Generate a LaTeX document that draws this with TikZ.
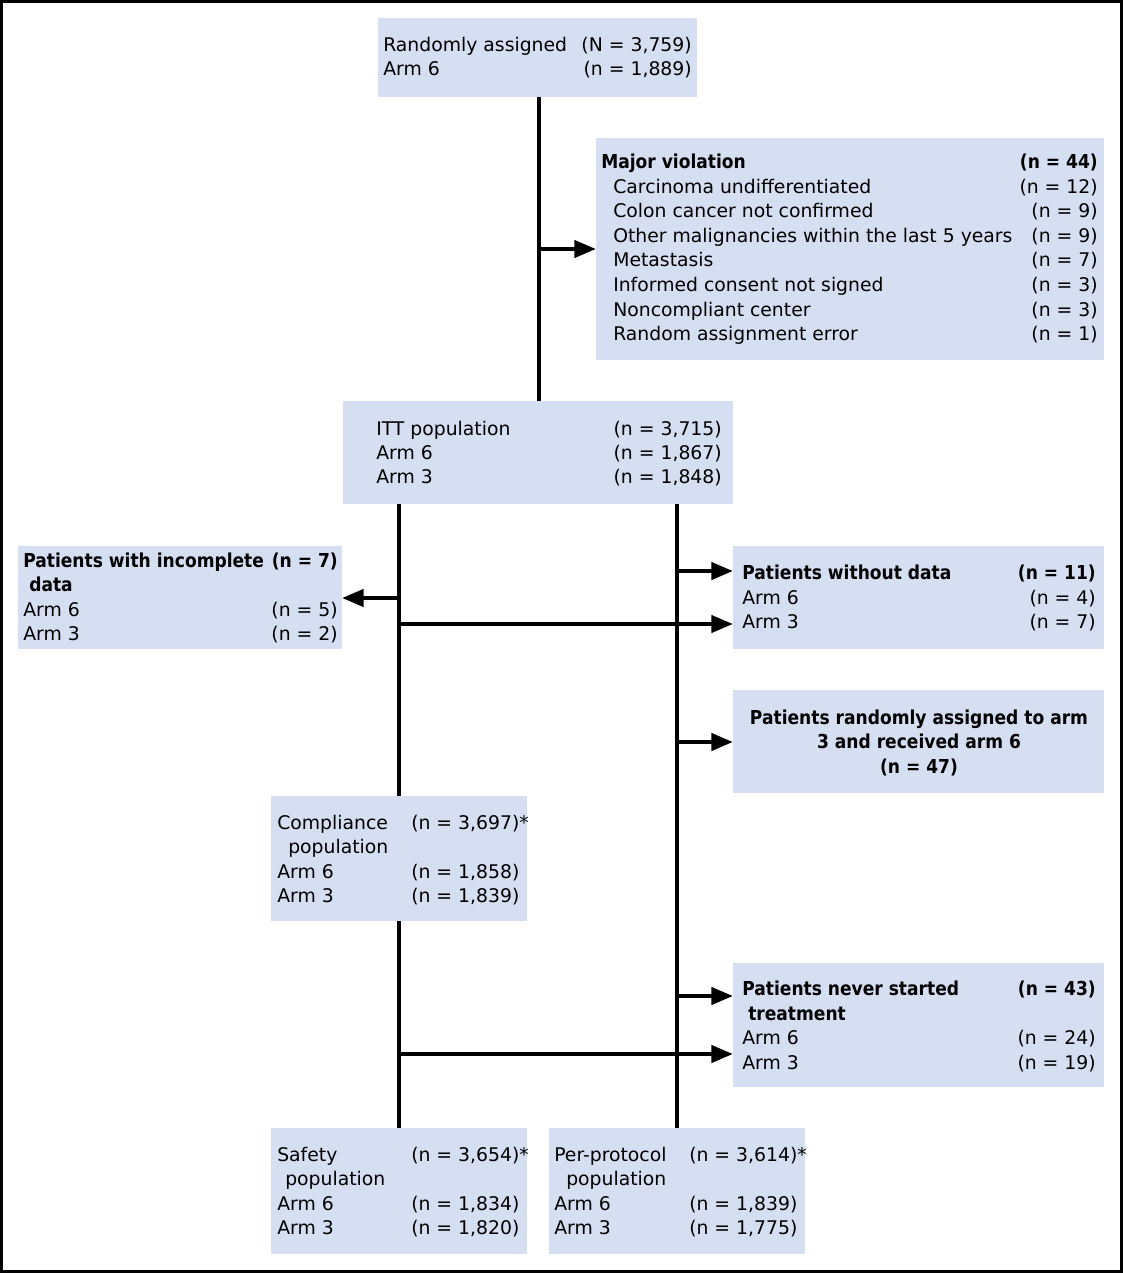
\documentclass[tikz,border=0pt]{standalone}
\usepackage{fontspec}
\setmainfont{DejaVu Sans}[BoldFeatures={FakeStretch=0.89}]
\usetikzlibrary{arrows.meta,fit}
\definecolor{boxblue}{RGB}{214,222,242}
\begin{document}
\begin{tikzpicture}[x=0.75pt,y=-0.75pt,
  box/.style={fill=boxblue, draw=none, inner sep=0pt},
  txt/.style={inner sep=0pt, font=\fontsize{14.1pt}{18pt}\selectfont},
  txtb/.style={inner sep=0pt, font=\fontsize{14.4pt}{18pt}\selectfont\bfseries},
  lt/.style={txt, anchor=base west},
  rt/.style={txt, anchor=base east},
  blt/.style={txtb, anchor=base west},
  brt/.style={txtb, anchor=base east},
  bct/.style={txtb, anchor=base},
  conn/.style={line width=2.4pt},
  arr/.style={conn, -{Triangle[length=16pt,width=13pt]}}]
\useasboundingbox (0,0) rectangle (1123,1273);
\draw[line width=1.6pt] (1.5,1.5) rectangle (1121.5,1271.5);

% ---- boxes
\node[box, fit={(378,18) (697,97)}] (rand) {};
\node[box, fit={(596,138) (1104,360)}] (viol) {};
\node[box, fit={(343,401) (733,504)}] (itt) {};
\node[box, fit={(18,546) (342,649)}] (incomp) {};
\node[box, fit={(733,546) (1104,649)}] (nodata) {};
\node[box, fit={(733,690) (1104,793)}] (swap) {};
\node[box, fit={(271,796) (527,921)}] (comp) {};
\node[box, fit={(733,963) (1104,1087)}] (never) {};
\node[box, fit={(271,1128) (527,1254)}] (safety) {};
\node[box, fit={(549,1128) (805,1254)}] (pp) {};

% ---- randomly assigned
\node[lt] (rand-l1) at (383,52) {Randomly assigned};
\node[rt] (rand-r1) at (692,52) {(N = 3,759)};
\node[lt] (rand-l2) at (383,76) {Arm 6};
\node[rt] (rand-r2) at (692,76) {(n = 1,889)};

% ---- major violation
\node[blt] (viol-t) at (601,169) {Major violation};
\node[brt] (viol-tn) at (1098,169) {(n = 44)};
\foreach \a/\b [count=\i] in {
  Carcinoma undifferentiated/{(n = 12)},
  Colon cancer not confirmed/{(n = 9)},
  Other malignancies within the last 5 years/{(n = 9)},
  Metastasis/{(n = 7)},
  Informed consent not signed/{(n = 3)},
  Noncompliant center/{(n = 3)},
  Random assignment error/{(n = 1)}} {
  \node[lt] (viol-l\i) at (613,{169+24.5*\i}) {\a};
  \node[rt] (viol-r\i) at (1098,{169+24.5*\i}) {\b};
}

% ---- ITT
\node[lt] (itt-l1) at (376,435) {ITT population};
\node[rt] (itt-r1) at (722,435) {(n = 3,715)};
\node[lt] (itt-l2) at (376,459) {Arm 6};
\node[rt] (itt-r2) at (722,459) {(n = 1,867)};
\node[lt] (itt-l3) at (376,483) {Arm 3};
\node[rt] (itt-r3) at (722,483) {(n = 1,848)};

% ---- incomplete data
\node[blt] (inc-l1) at (23,567) {Patients with incomplete};
\node[brt] (inc-r1) at (338,567) {(n = 7)};
\node[blt] (inc-l2) at (29,591) {data};
\node[lt] (inc-l3) at (23,616) {Arm 6};
\node[rt] (inc-r3) at (338,616) {(n = 5)};
\node[lt] (inc-l4) at (23,640) {Arm 3};
\node[rt] (inc-r4) at (338,640) {(n = 2)};

% ---- without data
\node[blt] (nd-l1) at (742,579) {Patients without data};
\node[brt] (nd-r1) at (1096,579) {(n = 11)};
\node[lt] (nd-l2) at (742,604) {Arm 6};
\node[rt] (nd-r2) at (1096,604) {(n = 4)};
\node[lt] (nd-l3) at (742,628) {Arm 3};
\node[rt] (nd-r3) at (1096,628) {(n = 7)};

% ---- swapped arm
\node[bct] (sw-1) at (919,724) {Patients randomly assigned to arm};
\node[bct] (sw-2) at (919,748) {3 and received arm 6};
\node[bct] (sw-3) at (919,773) {(n = 47)};

% ---- compliance
\node[lt] (cp-l1) at (277,829) {Compliance};
\node[lt] (cp-r1) at (411,829) {(n = 3,697)*};
\node[lt] (cp-l2) at (288,853) {population};
\node[lt] (cp-l3) at (277,878) {Arm 6};
\node[lt] (cp-r3) at (411,878) {(n = 1,858)};
\node[lt] (cp-l4) at (277,902) {Arm 3};
\node[lt] (cp-r4) at (411,902) {(n = 1,839)};

% ---- never started
\node[blt] (nv-l1) at (742,995) {Patients never started};
\node[brt] (nv-r1) at (1096,995) {(n = 43)};
\node[blt] (nv-l2) at (748,1020) {treatment};
\node[lt] (nv-l3) at (742,1044) {Arm 6};
\node[rt] (nv-r3) at (1096,1044) {(n = 24)};
\node[lt] (nv-l4) at (742,1069) {Arm 3};
\node[rt] (nv-r4) at (1096,1069) {(n = 19)};

% ---- safety
\node[lt] (sf-l1) at (277,1161) {Safety};
\node[lt] (sf-r1) at (411,1161) {(n = 3,654)*};
\node[lt] (sf-l2) at (285,1185) {population};
\node[lt] (sf-l3) at (277,1210) {Arm 6};
\node[lt] (sf-r3) at (411,1210) {(n = 1,834)};
\node[lt] (sf-l4) at (277,1234) {Arm 3};
\node[lt] (sf-r4) at (411,1234) {(n = 1,820)};

% ---- per-protocol
\node[lt] (pp-l1) at (554,1161) {Per-protocol};
\node[lt] (pp-r1) at (689,1161) {(n = 3,614)*};
\node[lt] (pp-l2) at (566,1185) {population};
\node[lt] (pp-l3) at (554,1210) {Arm 6};
\node[lt] (pp-r3) at (689,1210) {(n = 1,839)};
\node[lt] (pp-l4) at (554,1234) {Arm 3};
\node[lt] (pp-r4) at (689,1234) {(n = 1,775)};

% ---- connectors
\coordinate (top) at (539,97);
\coordinate (jv) at (539,249);
\coordinate (jnd) at (677,571);
\coordinate (jnd3) at (400,624);
\coordinate (jsw) at (677,742);
\coordinate (jnv) at (677,996);
\coordinate (jnv3) at (400,1054);
\coordinate (jinc) at (400,598);

\draw[conn] (top) -- (top |- itt.north);
\draw[arr] (jv) -- (jv -| viol.west);
\draw[conn] (itt.south -| comp.north) -- (comp.north);
\draw[conn] (comp.south) -- (safety.north);
\draw[conn] (itt.south -| pp.north) -- (pp.north);
\draw[arr] (jinc) -- (jinc -| incomp.east);
\draw[arr] (jnd3) -- (jnd3 -| nodata.west);
\draw[arr] (jnd) -- (jnd -| nodata.west);
\draw[arr] (jsw) -- (jsw -| swap.west);
\draw[arr] (jnv) -- (jnv -| never.west);
\draw[arr] (jnv3) -- (jnv3 -| never.west);
\end{tikzpicture}
\end{document}
